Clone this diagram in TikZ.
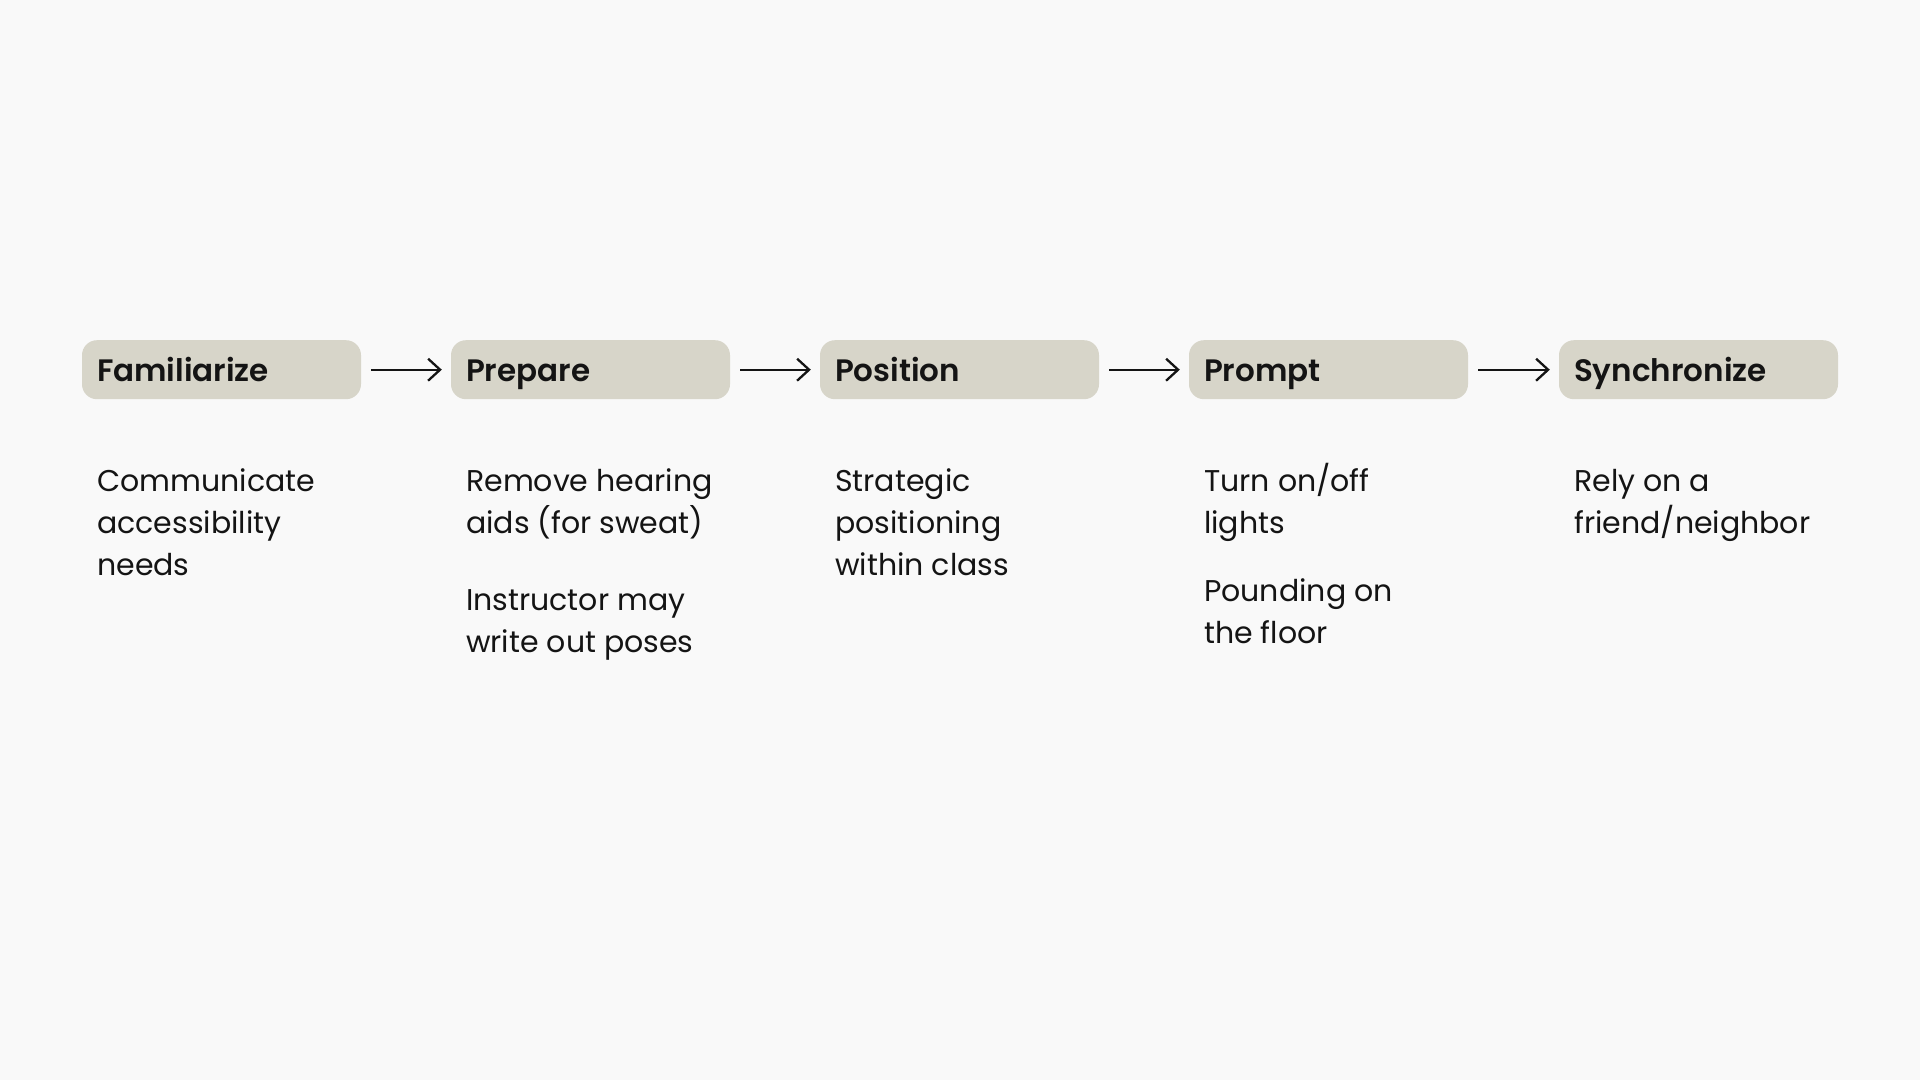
\documentclass[tikz,border=0pt]{standalone}
\usepackage{fontspec}
\setmainfont{Poppins}[BoldFont={Poppins SemiBold}]
\usetikzlibrary{arrows.meta}
\definecolor{bgcol}{HTML}{F9F9F9}
\definecolor{boxcol}{HTML}{D7D5C9}
\definecolor{inkcol}{HTML}{141414}
\begin{document}
\begin{tikzpicture}[x=1pt, y=-1pt,
    stage/.style={fill=boxcol, rounded corners=15pt, minimum width=279pt, minimum height=59pt,
      inner sep=0pt, text width=249pt, align=left, text height=28pt, text depth=5.4pt,
      font=\fontsize{31}{36}\selectfont\bfseries, text=inkcol},
    note/.style={anchor=base west, inner sep=0pt, align=left,
      font=\fontsize{30}{41.7}\selectfont, text=inkcol},
    arr/.style={-{Straight Barb[length=12pt, width=22pt]}, line width=2.3pt, draw=inkcol,
      shorten <=10pt, shorten >=9pt}]
    \fill[bgcol] (0, 0) rectangle (1920, 1080);
    % stages
    \node[stage] (fam) at (221.5, 369.7) {Familiarize};
    \node[stage] (prep) at (590.5, 369.7) {Prepare};
    \node[stage] (pos) at (959.5, 369.7) {Position};
    \node[stage] (prompt) at (1328.5, 369.7) {Prompt};
    \node[stage] (sync) at (1698.5, 369.7) {Synchronize};
    \draw[arr] (fam) -- (prep);
    \draw[arr] (prep) -- (pos);
    \draw[arr] (pos) -- (prompt);
    \draw[arr] (prompt) -- (sync);
    % notes (anchored at the baseline of their last line)
    \node[note] (famnote) at (97, 575.1) {Communicate\\accessibility\\needs};
    \node[note] (prepnote) at (466, 533.4) {Remove hearing\\aids (for sweat)};
    \node[note] (prepnoteb) at (466, 652.5) {Instructor may\\write out poses};
    \node[note] (posnote) at (835, 575.1) {Strategic\\positioning\\within class};
    \node[note] (promptnote) at (1204, 533.4) {Turn on/off\\lights};
    \node[note] (promptnoteb) at (1204, 643.2) {Pounding on\\the floor};
    \node[note] (syncnote) at (1574, 533.4) {Rely on a\\friend/neighbor};
\end{tikzpicture}
\end{document}
